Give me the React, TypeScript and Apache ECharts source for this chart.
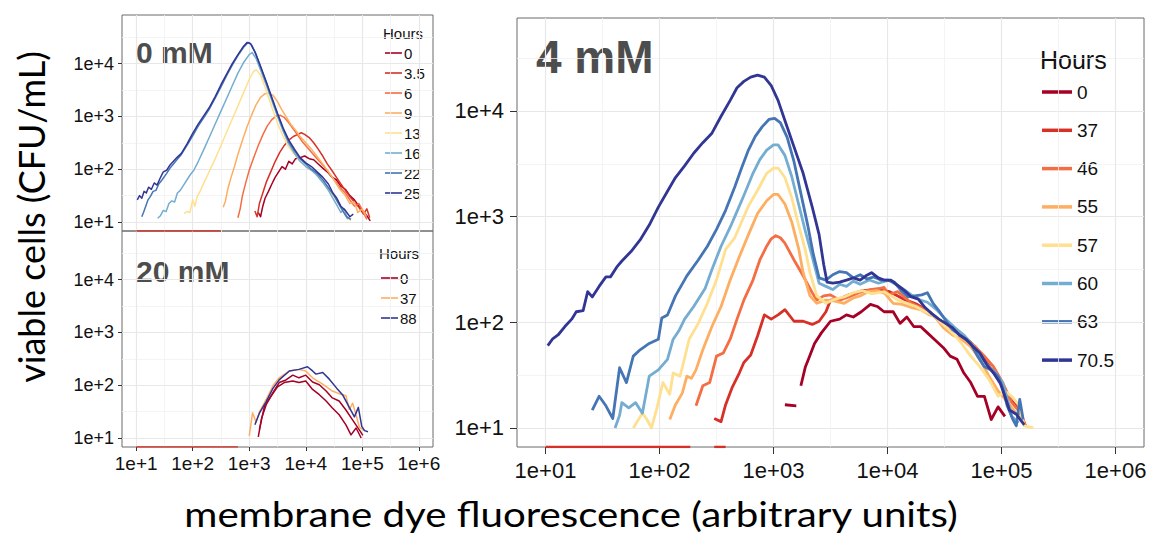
import { useEffect, useRef } from 'react';
import * as echarts from 'echarts';

// ---- values: log10(fluorescence), log10(CFU/mL) ----

// 0 mM panel
const HOURS_0MM = ['0', '3.5', '6', '9', '13', '16', '22', '25'];
const COLORS_0MM = ['#a50026', '#d73027', '#f46d43', '#fdae61', '#fee090', '#74add1', '#4575b4', '#313695'];
const mM0_h0 = [[3.16,1.18],[3.20,1.10],[3.24,1.30],[3.28,1.45],[3.34,1.58],[3.40,1.72],[3.46,1.85],[3.52,1.95],[3.58,2.05],[3.64,2.00],[3.70,2.15],[3.76,2.10],[3.82,2.20],[3.90,2.22],[3.98,2.25],[4.06,2.20],[4.14,2.18],[4.22,2.10],[4.30,2.02],[4.38,1.95],[4.46,1.85],[4.54,1.80],[4.62,1.68],[4.70,1.62],[4.78,1.50],[4.86,1.42],[4.94,1.30],[5.02,1.20],[5.08,1.12],[5.14,1.02]];
const mM0_h3_5 = [[3.10,1.21],[3.14,1.10],[3.18,1.35],[3.24,1.55],[3.30,1.75],[3.38,1.95],[3.46,2.15],[3.54,2.32],[3.62,2.45],[3.70,2.55],[3.78,2.62],[3.86,2.66],[3.92,2.69],[3.98,2.66],[4.06,2.60],[4.14,2.50],[4.22,2.38],[4.30,2.25],[4.38,2.10],[4.46,1.98],[4.54,1.85],[4.62,1.72],[4.70,1.60],[4.78,1.48],[4.86,1.38],[4.94,1.28],[5.02,1.15],[5.08,1.25],[5.13,1.08]];
const mM0_h6 = [[2.80,1.08],[2.84,1.25],[2.88,1.50],[2.94,1.75],[3.00,1.98],[3.08,2.22],[3.16,2.45],[3.24,2.65],[3.32,2.82],[3.40,2.94],[3.48,3.01],[3.55,3.02],[3.62,2.98],[3.70,2.88],[3.78,2.76],[3.86,2.64],[3.94,2.52],[4.02,2.42],[4.10,2.32],[4.20,2.20],[4.30,2.08],[4.40,1.95],[4.50,1.80],[4.60,1.66],[4.70,1.55],[4.78,1.42],[4.86,1.30],[4.94,1.35],[5.01,1.20],[5.08,1.05]];
const mM0_h9 = [[2.54,1.28],[2.58,1.40],[2.62,1.62],[2.68,1.85],[2.74,2.05],[2.80,2.28],[2.88,2.55],[2.96,2.80],[3.04,3.02],[3.12,3.22],[3.20,3.36],[3.28,3.43],[3.34,3.44],[3.42,3.40],[3.50,3.28],[3.58,3.12],[3.66,2.98],[3.74,2.84],[3.82,2.74],[3.90,2.62],[4.00,2.50],[4.10,2.38],[4.20,2.24],[4.30,2.10],[4.40,1.95],[4.50,1.80],[4.60,1.62],[4.70,1.50],[4.78,1.35],[4.86,1.38],[4.92,1.18],[5.00,1.25],[5.07,1.11]];
const mM0_h13 = [[1.85,1.16],[1.90,1.20],[1.95,1.18],[2.00,1.42],[2.04,1.30],[2.08,1.48],[2.14,1.60],[2.20,1.75],[2.26,1.88],[2.32,2.02],[2.40,2.20],[2.50,2.45],[2.60,2.70],[2.70,2.95],[2.80,3.20],[2.90,3.45],[3.00,3.70],[3.08,3.86],[3.13,3.88],[3.20,3.78],[3.28,3.55],[3.36,3.30],[3.44,3.05],[3.52,2.82],[3.60,2.62],[3.70,2.42],[3.80,2.28],[3.90,2.15],[4.00,2.05],[4.10,1.98],[4.20,1.88],[4.30,1.76],[4.40,1.62],[4.50,1.48],[4.58,1.35],[4.66,1.20],[4.74,1.08],[4.80,1.02]];
const mM0_h16 = [[1.38,1.07],[1.43,1.12],[1.48,1.22],[1.53,1.20],[1.58,1.35],[1.63,1.40],[1.68,1.38],[1.73,1.55],[1.78,1.60],[1.84,1.70],[1.90,1.80],[1.96,1.90],[2.02,1.98],[2.10,2.15],[2.20,2.38],[2.30,2.62],[2.40,2.86],[2.50,3.10],[2.60,3.34],[2.70,3.58],[2.80,3.82],[2.90,4.02],[3.00,4.17],[3.05,4.21],[3.12,4.10],[3.20,3.88],[3.30,3.60],[3.40,3.30],[3.50,3.00],[3.60,2.72],[3.70,2.48],[3.80,2.30],[3.90,2.15],[4.00,2.05],[4.10,1.98],[4.20,1.88],[4.30,1.75],[4.40,1.60],[4.48,1.45],[4.55,1.32],[4.62,1.18],[4.68,1.25],[4.74,1.05]];
const mM0_h22 = [[1.10,1.10],[1.13,1.18],[1.17,1.30],[1.21,1.42],[1.25,1.48],[1.30,1.58],[1.35,1.60],[1.40,1.72],[1.46,1.80],[1.54,1.92],[1.60,2.02],[1.66,2.10],[1.72,2.18],[1.80,2.28],[1.90,2.45],[2.00,2.63],[2.10,2.82],[2.20,2.98],[2.30,3.15],[2.40,3.35],[2.50,3.56],[2.60,3.77],[2.70,3.97],[2.80,4.15],[2.90,4.31],[2.98,4.40],[3.04,4.36],[3.12,4.18],[3.20,3.94],[3.30,3.64],[3.40,3.34],[3.50,3.04],[3.60,2.76],[3.70,2.52],[3.80,2.35],[3.90,2.20],[4.00,2.10],[4.10,2.00],[4.20,1.92],[4.30,1.80],[4.40,1.65],[4.50,1.50],[4.58,1.35],[4.66,1.20],[4.72,1.10],[4.80,1.05]];
const mM0_h25 = [[1.02,1.42],[1.06,1.50],[1.10,1.45],[1.14,1.58],[1.18,1.55],[1.22,1.66],[1.27,1.62],[1.32,1.74],[1.37,1.70],[1.42,1.82],[1.48,1.95],[1.54,1.98],[1.60,2.08],[1.66,2.15],[1.72,2.22],[1.80,2.30],[1.90,2.48],[2.00,2.68],[2.10,2.86],[2.20,3.02],[2.30,3.18],[2.40,3.38],[2.50,3.60],[2.60,3.80],[2.70,4.00],[2.80,4.17],[2.90,4.33],[2.96,4.40],[3.02,4.38],[3.10,4.22],[3.20,3.95],[3.30,3.66],[3.40,3.36],[3.50,3.06],[3.60,2.78],[3.70,2.55],[3.80,2.38],[3.90,2.22],[4.00,2.12],[4.10,2.05],[4.20,1.95],[4.30,1.85],[4.40,1.72],[4.48,1.55],[4.55,1.45],[4.62,1.30],[4.70,1.22],[4.78,1.10],[4.84,1.15]];
const SERIES_0MM = [mM0_h0, mM0_h3_5, mM0_h6, mM0_h9, mM0_h13, mM0_h16, mM0_h22, mM0_h25];
const FLOOR_0MM = [[1.0, 2.5]];

// 20 mM panel
const HOURS_20MM = ['0', '37', '88'];
const COLORS_20MM = ['#a50026', '#fdae61', '#313695'];
const mM20_h0a = [[3.16,1.02],[3.22,1.38],[3.30,1.63],[3.42,1.86],[3.53,2.05],[3.65,2.10],[3.77,2.19],[3.88,2.14],[4.00,2.19],[4.12,2.06],[4.24,2.01],[4.36,1.89],[4.47,1.76],[4.59,1.70],[4.71,1.53],[4.83,1.34],[4.95,1.15],[5.01,1.05]];
const mM20_h0b = [[3.18,1.16],[3.27,1.61],[3.39,1.80],[3.50,1.97],[3.62,2.05],[3.77,2.08],[3.88,2.05],[4.00,2.08],[4.12,1.92],[4.24,1.82],[4.36,1.70],[4.47,1.57],[4.59,1.44],[4.71,1.25],[4.80,1.06],[4.89,1.19],[4.98,1.00]];
const mM20_h37 = [[3.00,1.04],[3.06,1.48],[3.12,1.30],[3.18,1.49],[3.30,1.73],[3.42,1.99],[3.53,2.14],[3.71,2.27],[3.88,2.30],[4.00,2.27],[4.12,2.14],[4.30,2.02],[4.47,1.89],[4.59,1.84],[4.71,1.80],[4.77,1.54],[4.83,1.66],[4.95,1.20],[5.04,1.14]];
const mM20_h88 = [[3.10,1.25],[3.18,1.47],[3.30,1.69],[3.42,1.94],[3.53,2.10],[3.71,2.27],[3.88,2.30],[4.03,2.35],[4.12,2.27],[4.18,2.21],[4.30,2.24],[4.42,2.11],[4.55,1.94],[4.65,1.82],[4.77,1.58],[4.86,1.40],[4.93,1.58],[4.99,1.22],[5.04,1.14],[5.10,1.12]];
const SERIES_20MM = [mM20_h0a, mM20_h0b, mM20_h37, mM20_h88];
const SERIES_20MM_COLOR = ['#a50026', '#a50026', '#fdae61', '#313695'];
const FLOOR_20MM = [[1.0, 2.8]];

// 4 mM panel
const HOURS_4MM = ['0', '37', '46', '55', '57', '60', '63', '70.5'];
const COLORS_4MM = ['#a50026', '#d73027', '#f46d43', '#fdae61', '#fee090', '#74add1', '#4575b4', '#313695'];
const mM4_h0 = [[3.10,1.22],[3.20,1.21],null,[3.24,1.40],[3.28,1.58],[3.31,1.66],[3.36,1.80],[3.42,1.90],[3.50,2.01],[3.58,2.03],[3.64,2.07],[3.70,2.05],[3.77,2.10],[3.85,2.17],[3.91,2.15],[3.97,2.10],[4.05,2.10],[4.11,1.99],[4.17,2.05],[4.23,1.96],[4.29,1.96],[4.35,1.90],[4.41,1.84],[4.49,1.76],[4.55,1.68],[4.61,1.65],[4.67,1.52],[4.73,1.43],[4.79,1.30],[4.85,1.30],[4.91,1.08],[4.97,1.20],[5.03,1.11]];
const mM4_h37 = [[2.48,1.09],[2.54,1.06],[2.58,1.22],[2.64,1.39],[2.70,1.52],[2.74,1.62],[2.80,1.69],[2.86,1.87],[2.92,2.07],[2.98,2.03],[3.04,2.07],[3.10,2.12],[3.18,2.01],[3.26,2.01],[3.34,1.98],[3.40,2.01],[3.46,2.10],[3.50,2.21],[3.58,2.22],[3.66,2.26],[3.78,2.30],[3.90,2.31],[4.02,2.29],[4.14,2.22],[4.26,2.17],[4.38,2.09],[4.50,1.98],[4.61,1.91],[4.73,1.81],[4.85,1.65],[4.97,1.47],[5.05,1.31],[5.15,1.18],[5.21,1.02]];
const mM4_h46 = [[2.32,1.21],[2.38,1.40],[2.44,1.43],[2.50,1.68],[2.56,1.71],[2.62,1.84],[2.68,2.03],[2.74,2.21],[2.82,2.40],[2.88,2.59],[2.94,2.72],[2.98,2.79],[3.02,2.82],[3.06,2.80],[3.10,2.75],[3.18,2.59],[3.26,2.44],[3.34,2.28],[3.38,2.21],[3.44,2.25],[3.50,2.26],[3.58,2.21],[3.66,2.24],[3.75,2.28],[3.85,2.31],[3.93,2.32],[3.97,2.33],[4.01,2.26],[4.09,2.29],[4.21,2.18],[4.33,2.12],[4.45,2.02],[4.53,1.99],[4.65,1.88],[4.77,1.77],[4.85,1.68],[4.93,1.58],[5.01,1.43],[5.09,1.24],[5.17,1.14],[5.21,1.02]];
const mM4_h55 = [[2.09,1.08],[2.14,1.22],[2.20,1.33],[2.24,1.49],[2.28,1.47],[2.32,1.55],[2.38,1.74],[2.46,1.96],[2.54,2.15],[2.62,2.40],[2.70,2.62],[2.78,2.83],[2.86,3.03],[2.94,3.15],[3.00,3.21],[3.04,3.21],[3.10,3.12],[3.16,2.95],[3.22,2.70],[3.26,2.47],[3.32,2.25],[3.38,2.18],[3.46,2.21],[3.54,2.20],[3.62,2.18],[3.70,2.23],[3.76,2.25],[3.83,2.29],[3.91,2.30],[3.98,2.27],[4.05,2.18],[4.13,2.17],[4.21,2.14],[4.29,2.12],[4.37,2.07],[4.41,2.06],[4.49,1.95],[4.57,1.88],[4.65,1.84],[4.73,1.77],[4.81,1.65],[4.89,1.49],[4.97,1.35],[5.05,1.25],[5.12,1.15],[5.19,1.06]];
const mM4_h57 = [[1.77,1.00],[1.81,1.07],[1.85,1.14],[1.89,1.08],[1.93,1.00],[1.98,1.20],[2.03,1.43],[2.09,1.32],[2.12,1.52],[2.18,1.49],[2.22,1.66],[2.26,1.84],[2.34,1.99],[2.42,2.18],[2.50,2.40],[2.58,2.69],[2.66,2.80],[2.72,2.95],[2.78,3.10],[2.86,3.25],[2.94,3.41],[3.00,3.46],[3.04,3.46],[3.10,3.37],[3.16,3.18],[3.22,2.92],[3.28,2.68],[3.32,2.47],[3.38,2.25],[3.46,2.18],[3.54,2.22],[3.62,2.24],[3.70,2.28],[3.78,2.30],[3.86,2.27],[3.97,2.29],[4.09,2.21],[4.17,2.18],[4.25,2.15],[4.33,2.10],[4.41,2.06],[4.49,1.98],[4.57,1.90],[4.65,1.80],[4.73,1.68],[4.81,1.58],[4.89,1.46],[4.97,1.30],[5.03,1.35],[5.09,1.30],[5.15,1.22],[5.20,1.02],[5.28,1.00]];
const mM4_h60 = [[1.61,1.00],[1.65,1.12],[1.67,1.24],[1.73,1.19],[1.79,1.24],[1.85,1.14],[1.91,1.49],[1.99,1.55],[2.07,1.65],[2.12,1.84],[2.17,1.92],[2.22,2.03],[2.30,2.15],[2.40,2.32],[2.46,2.50],[2.54,2.72],[2.62,2.90],[2.68,3.05],[2.74,3.20],[2.82,3.41],[2.88,3.54],[2.94,3.63],[3.00,3.68],[3.04,3.68],[3.10,3.58],[3.16,3.38],[3.22,3.12],[3.28,2.86],[3.34,2.62],[3.40,2.37],[3.46,2.34],[3.52,2.31],[3.58,2.36],[3.64,2.34],[3.70,2.39],[3.76,2.36],[3.84,2.40],[3.92,2.37],[4.01,2.40],[4.07,2.36],[4.13,2.32],[4.21,2.26],[4.29,2.21],[4.35,2.19],[4.43,2.12],[4.51,2.03],[4.59,1.95],[4.67,1.88],[4.75,1.78],[4.81,1.68],[4.89,1.58],[4.95,1.52],[5.01,1.43],[5.05,1.28],[5.09,1.11],[5.15,1.05]];
const mM4_h63 = [[1.41,1.17],[1.47,1.30],[1.53,1.21],[1.59,1.09],[1.65,1.57],[1.71,1.43],[1.77,1.68],[1.83,1.74],[1.91,1.80],[1.99,1.84],[2.02,2.04],[2.07,2.07],[2.14,2.25],[2.24,2.44],[2.34,2.59],[2.42,2.72],[2.50,2.88],[2.58,3.06],[2.66,3.28],[2.72,3.46],[2.78,3.63],[2.84,3.76],[2.90,3.85],[2.96,3.92],[3.01,3.93],[3.06,3.89],[3.12,3.75],[3.18,3.52],[3.24,3.22],[3.30,2.92],[3.35,2.64],[3.40,2.42],[3.46,2.40],[3.52,2.45],[3.58,2.48],[3.64,2.47],[3.70,2.42],[3.76,2.45],[3.82,2.41],[3.88,2.43],[3.94,2.40],[4.00,2.40],[4.06,2.38],[4.12,2.30],[4.18,2.24],[4.24,2.25],[4.30,2.26],[4.35,2.28],[4.40,2.18],[4.45,2.11],[4.51,2.02],[4.57,1.93],[4.65,1.87],[4.73,1.80],[4.79,1.68],[4.85,1.58],[4.91,1.55],[4.97,1.49],[5.01,1.38],[5.05,1.21],[5.10,1.08],[5.13,1.02],[5.16,1.27],[5.19,1.08]];
const mM4_h70_5 = [[1.02,1.78],[1.06,1.84],[1.11,1.88],[1.17,1.96],[1.23,2.03],[1.27,2.10],[1.33,2.11],[1.37,2.29],[1.41,2.24],[1.47,2.34],[1.53,2.43],[1.57,2.43],[1.63,2.53],[1.67,2.58],[1.75,2.67],[1.83,2.78],[1.91,2.92],[1.99,3.09],[2.07,3.24],[2.14,3.37],[2.22,3.48],[2.30,3.60],[2.38,3.70],[2.46,3.79],[2.54,3.95],[2.62,4.10],[2.68,4.22],[2.74,4.28],[2.80,4.32],[2.86,4.34],[2.92,4.32],[2.98,4.24],[3.04,4.10],[3.10,3.91],[3.18,3.66],[3.26,3.41],[3.34,3.09],[3.40,2.83],[3.44,2.55],[3.47,2.38],[3.52,2.37],[3.58,2.38],[3.64,2.40],[3.70,2.42],[3.76,2.40],[3.81,2.44],[3.86,2.47],[3.92,2.42],[3.97,2.40],[4.03,2.40],[4.09,2.35],[4.15,2.30],[4.21,2.24],[4.27,2.22],[4.33,2.14],[4.39,2.08],[4.45,2.03],[4.51,1.99],[4.57,1.95],[4.63,1.88],[4.69,1.84],[4.75,1.77],[4.81,1.71],[4.87,1.60],[4.93,1.52],[4.99,1.42],[5.03,1.30],[5.07,1.17],[5.13,1.13],[5.20,1.03]];
const SERIES_4MM = [mM4_h0, mM4_h37, mM4_h46, mM4_h55, mM4_h57, mM4_h60, mM4_h63, mM4_h70_5];
const FLOOR_4MM = [[1.0, 2.27], [2.48, 2.58]];

// Axis ranges (log10 units) and tick positions
const X_RANGE = [0.75, 6.25];
const Y_RANGE_SMALL = [0.83, 4.92];
const Y_RANGE_BIG = [0.82, 4.88];
const X_TICKS = [1, 2, 3, 4, 5, 6];
const Y_TICKS = [1, 2, 3, 4];

const TICK_FONT = '"Liberation Sans", Arial, Helvetica, sans-serif';
const TITLE_FONT = 'Lato, "Open Sans", sans-serif';

function sciLabel(pad: boolean) {
  return (v: number) => {
    const r = Math.round(v);
    if (Math.abs(v - r) > 1e-6) return '';
    return '1e+' + (pad ? String(r).padStart(2, '0') : String(r));
  };
}

function axis(gridIndex: number, range: number[], ticks: number[], o: {
  show: boolean; fontSize: number; pad: boolean; tickLen: number; margin: number;
}) {
  return {
    type: 'value',
    gridIndex,
    min: range[0],
    max: range[1],
    axisLine: { show: false },
    axisTick: {
      show: o.show, length: o.tickLen, customValues: ticks,
      lineStyle: { color: '#333333', width: 1 },
    },
    axisLabel: {
      show: o.show, customValues: ticks, formatter: sciLabel(o.pad),
      fontSize: o.fontSize, fontFamily: TICK_FONT, color: '#111111', margin: o.margin,
    },
    splitLine: { show: true, lineStyle: { color: '#e8e8e8', width: 1.2 } },
    minorTick: { show: false, splitNumber: 2 },
    minorSplitLine: { show: true, lineStyle: { color: '#f1f1f1', width: 0.8 } },
  };
}

function lineSeries(data: any[], color: string, idx: number, width: number) {
  return {
    type: 'line',
    data,
    xAxisIndex: idx,
    yAxisIndex: idx,
    showSymbol: false,
    symbol: 'none',
    silent: true,
    connectNulls: false,
    lineStyle: { color, width, join: 'round' },
    itemStyle: { color },
  };
}

function floorSeries(runs: number[][], yFloor: number, color: string, idx: number, width: number) {
  const data: any[] = [];
  runs.forEach((r, i) => {
    if (i > 0) data.push(null);
    data.push([r[0], yFloor], [r[1], yFloor]);
  });
  return lineSeries(data, color, idx, width);
}

function textStyle(text: string, font: string, fill: string, align = 'left') {
  return { text, font, fill, textAlign: align, textVerticalAlign: 'middle', stroke: 'none', lineWidth: 0 };
}

function legend(x: number, yTitle: number, yFirst: number, step: number, labels: string[], colors: string[], s: {
  titleSize: number; itemSize: number; lineLen: number; lineW: number; gap: number;
}) {
  const els: any[] = [
    { type: 'text', x, y: yTitle, style: textStyle('Hours', `${s.titleSize}px ${TICK_FONT}`, '#111') },
  ];
  labels.forEach((lab, i) => {
    const y = yFirst + i * step;
    els.push({
      type: 'line', shape: { x1: x + 2, y1: y, x2: x + 2 + s.lineLen, y2: y },
      style: { stroke: colors[i], lineWidth: s.lineW },
    });
    els.push({
      type: 'text', x: x + 2 + s.lineLen + s.gap, y,
      style: textStyle(lab, `${s.itemSize}px ${TICK_FONT}`, '#111'),
    });
  });
  return els;
}

export default function App() {
  const ref = useRef<HTMLDivElement>(null);

  useEffect(() => {
    if (!ref.current) return;
    const chart = echarts.init(ref.current, null, { renderer: 'svg' });

    const gridBase = { show: true, borderColor: '#6a6a6a', borderWidth: 1, backgroundColor: 'transparent', containLabel: false, outerBoundsMode: 'none' };

    const series: any[] = [];
    series.push(floorSeries(FLOOR_0MM, Y_RANGE_SMALL[0], '#d73027', 0, 1.4));
    SERIES_0MM.forEach((d, i) => series.push(lineSeries(d, COLORS_0MM[i], 0, 1.5)));
    series.push(floorSeries(FLOOR_20MM, Y_RANGE_SMALL[0], '#d73027', 1, 1.4));
    SERIES_20MM.forEach((d, i) => series.push(lineSeries(d, SERIES_20MM_COLOR[i], 1, 1.5)));
    series.push(floorSeries(FLOOR_4MM, Y_RANGE_BIG[0], '#d73027', 2, 2.6));
    SERIES_4MM.forEach((d, i) => series.push(lineSeries(d, COLORS_4MM[i], 2, 2.8)));

    const smallLegend = { titleSize: 15, itemSize: 15, lineLen: 17, lineW: 1.6, gap: 2 };
    const bigLegend = { titleSize: 25, itemSize: 19, lineLen: 30, lineW: 3.5, gap: 5 };

    const graphic: any[] = [
      { type: 'text', x: 136, y: 52, style: textStyle('0 mM', `bold 30px ${TICK_FONT}`, '#4d4d4d') },
      { type: 'text', x: 136, y: 271, style: textStyle('20 mM', `bold 30px ${TICK_FONT}`, '#4d4d4d') },
      { type: 'text', x: 536, y: 57, style: textStyle('4 mM', `bold 46px ${TICK_FONT}`, '#4d4d4d') },
      ...legend(383, 33, 53, 20, HOURS_0MM, COLORS_0MM, smallLegend),
      ...legend(379, 253, 278, 20, HOURS_20MM, COLORS_20MM, smallLegend),
      ...legend(1040, 60, 92, 38.3, HOURS_4MM, COLORS_4MM, bigLegend),
      {
        type: 'text', x: 31, y: 217, rotation: Math.PI / 2,
        style: textStyle('viable cells (CFU/mL)', `36px ${TITLE_FONT}`, '#000', 'center'),
      },
      {
        type: 'text', x: 571, y: 514, scaleX: 1.15,
        style: textStyle('membrane dye fluorescence (arbitrary units)', `35px ${TITLE_FONT}`, '#000', 'center'),
      },
    ];

    chart.setOption({
      animation: false,
      backgroundColor: '#ffffff',
      grid: [
        { ...gridBase, left: 122, top: 15, width: 311, height: 216 },
        { ...gridBase, left: 122, top: 231, width: 311, height: 216 },
        { ...gridBase, left: 517, top: 18, width: 627, height: 429 },
      ],
      xAxis: [
        axis(0, X_RANGE, X_TICKS, { show: false, fontSize: 19, pad: false, tickLen: 4, margin: 7 }),
        axis(1, X_RANGE, X_TICKS, { show: true, fontSize: 19, pad: false, tickLen: 4, margin: 7 }),
        axis(2, X_RANGE, X_TICKS, { show: true, fontSize: 22, pad: true, tickLen: 7, margin: 12 }),
      ],
      yAxis: [
        axis(0, Y_RANGE_SMALL, Y_TICKS, { show: true, fontSize: 18, pad: false, tickLen: 4, margin: 8 }),
        axis(1, Y_RANGE_SMALL, Y_TICKS, { show: true, fontSize: 18, pad: false, tickLen: 4, margin: 8 }),
        axis(2, Y_RANGE_BIG, Y_TICKS, { show: true, fontSize: 22, pad: false, tickLen: 7, margin: 13 }),
      ],
      series,
      graphic,
    });

    return () => chart.dispose();
  }, []);

  return (
    <div
      ref={ref}
      style={{ position: 'fixed', left: 0, top: 0, width: 1150, height: 538, background: '#fff' }}
    />
  );
}
